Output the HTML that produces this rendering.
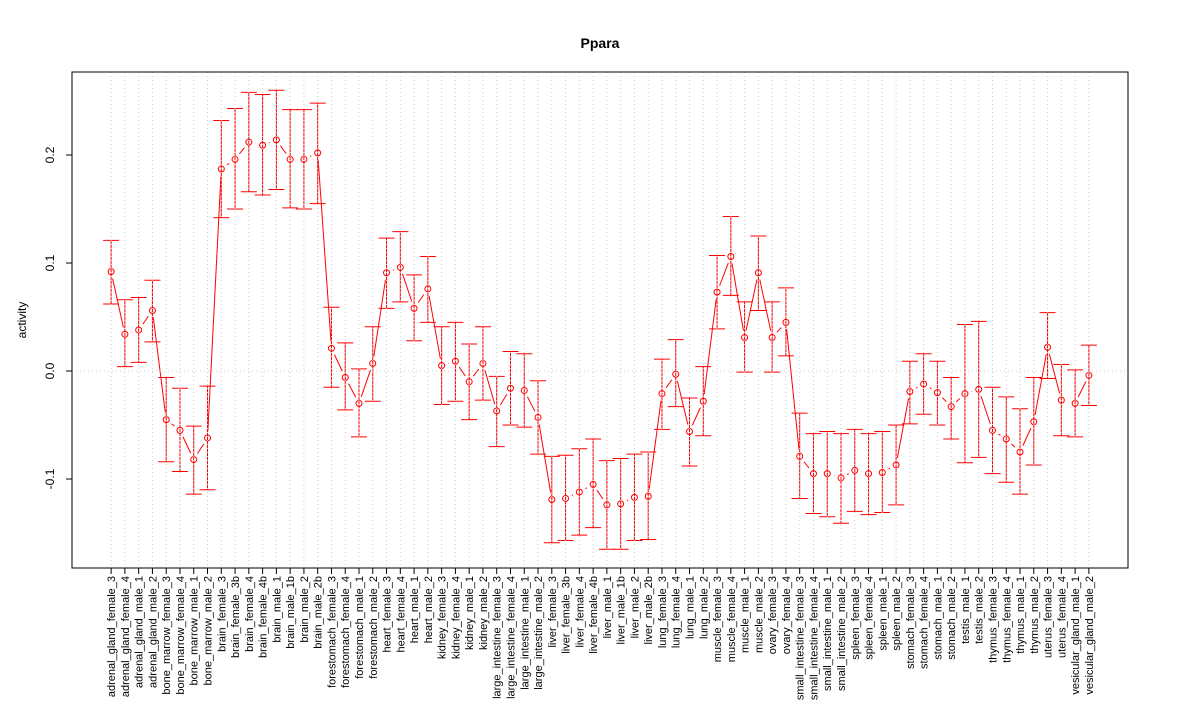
<!DOCTYPE html>
<html><head><meta charset="utf-8"><style>body{margin:0;background:#fff}svg text{font-family:"Liberation Sans",Arial,sans-serif}</style></head>
<body>
<svg id="chart" width="1200" height="720" xmlns="http://www.w3.org/2000/svg"></svg>
<script>
const categories=["adrenal_gland_female_3","adrenal_gland_female_4","adrenal_gland_male_1","adrenal_gland_male_2","bone_marrow_female_3","bone_marrow_female_4","bone_marrow_male_1","bone_marrow_male_2","brain_female_3","brain_female_3b","brain_female_4","brain_female_4b","brain_male_1","brain_male_1b","brain_male_2","brain_male_2b","forestomach_female_3","forestomach_female_4","forestomach_male_1","forestomach_male_2","heart_female_3","heart_female_4","heart_male_1","heart_male_2","kidney_female_3","kidney_female_4","kidney_male_1","kidney_male_2","large_intestine_female_3","large_intestine_female_4","large_intestine_male_1","large_intestine_male_2","liver_female_3","liver_female_3b","liver_female_4","liver_female_4b","liver_male_1","liver_male_1b","liver_male_2","liver_male_2b","lung_female_3","lung_female_4","lung_male_1","lung_male_2","muscle_female_3","muscle_female_4","muscle_male_1","muscle_male_2","ovary_female_3","ovary_female_4","small_intestine_female_3","small_intestine_female_4","small_intestine_male_1","small_intestine_male_2","spleen_female_3","spleen_female_4","spleen_male_1","spleen_male_2","stomach_female_3","stomach_female_4","stomach_male_1","stomach_male_2","testis_male_1","testis_male_2","thymus_female_3","thymus_female_4","thymus_male_1","thymus_male_2","uterus_female_3","uterus_female_4","vesicular_gland_male_1","vesicular_gland_male_2"];
const means=[0.092,0.034,0.038,0.056,-0.045,-0.055,-0.082,-0.062,0.187,0.196,0.212,0.209,0.214,0.196,0.196,0.202,0.021,-0.006,-0.030,0.007,0.091,0.096,0.058,0.076,0.005,0.009,-0.010,0.007,-0.037,-0.016,-0.018,-0.043,-0.119,-0.118,-0.112,-0.105,-0.124,-0.123,-0.117,-0.116,-0.021,-0.003,-0.056,-0.028,0.073,0.106,0.031,0.091,0.031,0.045,-0.079,-0.095,-0.095,-0.099,-0.092,-0.095,-0.094,-0.087,-0.019,-0.012,-0.020,-0.033,-0.021,-0.017,-0.055,-0.063,-0.075,-0.047,0.022,-0.027,-0.030,-0.004];
const uppers=[0.121,0.066,0.068,0.084,-0.006,-0.016,-0.051,-0.014,0.232,0.243,0.258,0.256,0.260,0.242,0.242,0.248,0.059,0.026,0.002,0.041,0.123,0.129,0.089,0.106,0.041,0.045,0.025,0.041,-0.005,0.018,0.016,-0.009,-0.079,-0.078,-0.072,-0.063,-0.083,-0.081,-0.077,-0.075,0.011,0.029,-0.025,0.004,0.107,0.143,0.064,0.125,0.064,0.077,-0.039,-0.058,-0.056,-0.058,-0.054,-0.058,-0.056,-0.050,0.009,0.016,0.009,-0.006,0.043,0.046,-0.015,-0.024,-0.035,-0.006,0.054,0.006,0.001,0.024];
const lowers=[0.062,0.004,0.008,0.027,-0.084,-0.093,-0.114,-0.110,0.142,0.150,0.166,0.163,0.168,0.151,0.150,0.155,-0.015,-0.036,-0.061,-0.028,0.058,0.064,0.028,0.045,-0.031,-0.028,-0.045,-0.027,-0.070,-0.050,-0.052,-0.077,-0.159,-0.157,-0.152,-0.145,-0.165,-0.165,-0.157,-0.156,-0.054,-0.033,-0.088,-0.060,0.039,0.070,-0.001,0.056,-0.001,0.014,-0.118,-0.132,-0.135,-0.141,-0.130,-0.133,-0.131,-0.124,-0.049,-0.040,-0.050,-0.063,-0.085,-0.080,-0.095,-0.103,-0.114,-0.087,-0.007,-0.060,-0.061,-0.032];
const yTicks=[-0.1,0.0,0.1,0.2];
const yTickLabels=["-0.1","0.0","0.1","0.2"];

const NS="http://www.w3.org/2000/svg",svg=document.getElementById('chart');
const L=72,R=1128,T=72,B=568;
const n=categories.length;
const xs=i=>L+(R-L)*((i+1)-(1-0.04*(n-1)))/((n-1)*1.08);
const ys=v=>371-v*1080;
function mk(tag,a,parent){const e=document.createElementNS(NS,tag);for(const k in a)e.setAttribute(k,a[k]);(parent||svg).appendChild(e);return e;}
const red="#ff0000";
// series
const sg=mk('g',{});


for(let i=0;i<n-1;i++){
  const x1=xs(i),y1=ys(means[i]),x2=xs(i+1),y2=ys(means[i+1]);
  const dx=x2-x1,dy=y2-y1,d=Math.hypot(dx,dy),r=7;
  if(d>2*r){const s=mk('line',{x1:x1+dx*r/d,y1:y1+dy*r/d,x2:x2-dx*r/d,y2:y2-dy*r/d,stroke:red},sg);
  
  }
}
categories.forEach((c,i)=>{
  const x=xs(i);
  const eb=mk('path',{d:`M${x},${ys(uppers[i])}V${ys(lowers[i])}M${x-8},${ys(uppers[i])}H${x+8}M${x-8},${ys(lowers[i])}H${x+8}`,stroke:red,fill:'none'},sg);
  
  
  const p=mk('circle',{cx:x,cy:ys(means[i]),r:3,fill:'none',stroke:red},sg);
  
  
  const tx=x+4,ty=576;
  const t=mk('text',{x:tx,y:ty,'font-size':11,'text-anchor':'end',transform:`rotate(-90 ${tx} ${ty})`});
  t.textContent=c;
  
  
  const tk=mk('line',{x1:x,x2:x,y1:B,y2:B+6,stroke:'#000'});
  
  
});
// grid on top
categories.forEach((c,i)=>{
  const g=mk('line',{x1:xs(i),x2:xs(i),y1:T,y2:B,stroke:'#cccccc','stroke-dasharray':'1,3'});
  
  
});
const zl=mk('line',{x1:L,x2:R,y1:ys(0),y2:ys(0),stroke:'#cccccc','stroke-dasharray':'1,3'});


yTicks.forEach((v,i)=>{
  const y=ys(v);
  const tk=mk('line',{x1:L-6,x2:L,y1:y,y2:y,stroke:'#000'});
  
  
  const t=mk('text',{x:54,y:y,'font-size':12,'text-anchor':'middle',transform:`rotate(-90 54 ${y})`});
  t.textContent=yTickLabels[i];
  
  
});
const box=mk('rect',{x:L,y:T,width:R-L,height:B-T,fill:'none',stroke:'#000'});


const ti=mk('text',{x:600,y:48,'font-size':14,'font-weight':'bold','text-anchor':'middle'});
ti.textContent='Ppara';


const yl=mk('text',{x:26,y:320,'font-size':12,'text-anchor':'middle',transform:'rotate(-90 26 320)'});
yl.textContent='activity';


</script>
</body></html>
